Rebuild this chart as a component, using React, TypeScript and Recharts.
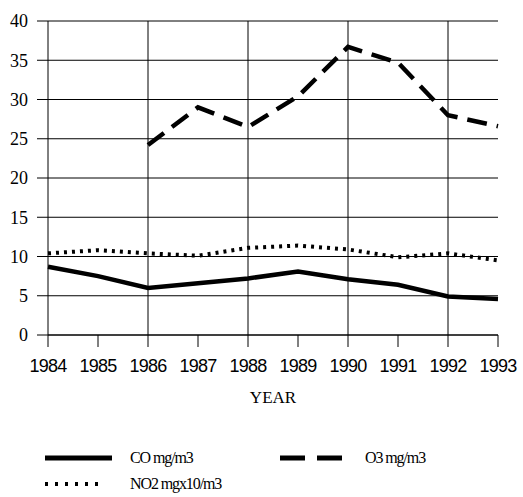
import React from "react";
import {
  LineChart,
  Line,
  XAxis,
  YAxis,
  CartesianGrid,
  ReferenceLine,
} from "recharts";

// values
const years = [1984, 1985, 1986, 1987, 1988, 1989, 1990, 1991, 1992, 1993];
const co = [8.7, 7.5, 6.0, 6.6, 7.2, 8.1, 7.1, 6.4, 4.9, 4.6];
const o3 = [null, null, 24.2, 29.0, 26.5, 30.4, 36.7, 34.7, 28.0, 26.6];
const no2 = [10.4, 10.8, 10.4, 10.1, 11.1, 11.4, 10.9, 9.9, 10.4, 9.5];

const yTicks = [0, 5, 10, 15, 20, 25, 30, 35, 40];
const gridYears = [1986, 1988, 1990, 1992];

const data = years.map((year, i) => ({
  year,
  co: co[i],
  o3: o3[i],
  no2: no2[i],
}));

const SERIF = '"Liberation Serif", "Times New Roman", serif';
const SANS = '"Liberation Sans", Arial, sans-serif';
const INK = "#000";

// one legend row: line sample, then the label starting at sample + gap
function LegendItem({
  left,
  top,
  label,
  dash,
  width,
  gap,
  thick,
}: {
  left: number;
  top: number;
  label: string;
  dash?: string;
  width: number;
  gap: number;
  thick: number;
}) {
  return (
    <div
      style={{
        position: "absolute",
        left,
        top,
        display: "flex",
        alignItems: "center",
        height: 20,
      }}
    >
      <svg width={width} height={10} style={{ display: "block" }}>
        <line
          x1={0}
          y1={5}
          x2={width}
          y2={5}
          stroke={INK}
          strokeWidth={thick}
          strokeDasharray={dash}
        />
      </svg>
      <span
        style={{
          marginLeft: gap,
          fontFamily: SERIF,
          fontSize: 16,
          letterSpacing: -1.1,
          color: INK,
          whiteSpace: "nowrap",
        }}
      >
        {label}
      </span>
    </div>
  );
}

export default function App() {
  return (
    <div
      style={{
        position: "absolute",
        left: 0,
        top: 0,
        width: 523,
        height: 497,
        background: "#fff",
      }}
    >
      <LineChart
        width={523}
        height={497}
        data={data}
        margin={{ top: 21, right: 25, left: 0, bottom: 92 }}
      >
        <CartesianGrid stroke={INK} strokeWidth={1} vertical={false} />
        {gridYears.map((y) => (
          <ReferenceLine key={y} x={y} stroke={INK} strokeWidth={1} />
        ))}
        <XAxis
          dataKey="year"
          type="number"
          domain={[1984, 1993]}
          ticks={years}
          interval={0}
          height={70}
          tickSize={12}
          tickMargin={12}
          axisLine={{ stroke: INK }}
          tickLine={{ stroke: INK }}
          tick={{ fill: INK, fontSize: 18, fontFamily: SANS, letterSpacing: -0.8 }}
          label={{
            value: "YEAR",
            position: "insideBottom",
            offset: 2,
            fill: INK,
            fontSize: 17,
            fontFamily: SERIF,
          }}
        />
        <YAxis
          width={48}
          domain={[0, 40]}
          ticks={yTicks}
          interval={0}
          tickSize={11}
          tickMargin={9}
          axisLine={{ stroke: INK }}
          tickLine={{ stroke: INK }}
          tick={{ fill: INK, fontSize: 18, fontFamily: SERIF }}
        />
        <Line
          dataKey="no2"
          stroke={INK}
          strokeWidth={4}
          strokeDasharray="3 5"
          dot={false}
          type="linear"
          isAnimationActive={false}
        />
        <Line
          dataKey="co"
          stroke={INK}
          strokeWidth={4.5}
          dot={false}
          type="linear"
          isAnimationActive={false}
        />
        <Line
          dataKey="o3"
          stroke={INK}
          strokeWidth={4.5}
          strokeDasharray="20 10"
          dot={false}
          type="linear"
          connectNulls={false}
          isAnimationActive={false}
        />
      </LineChart>

      <LegendItem left={45} top={448} label="CO mg/m3" width={67} gap={18} thick={5} />
      <LegendItem
        left={280}
        top={448}
        label="O3 mg/m3"
        width={62}
        gap={23}
        thick={5}
        dash="25 12"
      />
      <LegendItem
        left={45}
        top={474}
        label="NO2 mgx10/m3"
        width={58}
        gap={27}
        thick={4}
        dash="3 7"
      />
    </div>
  );
}
